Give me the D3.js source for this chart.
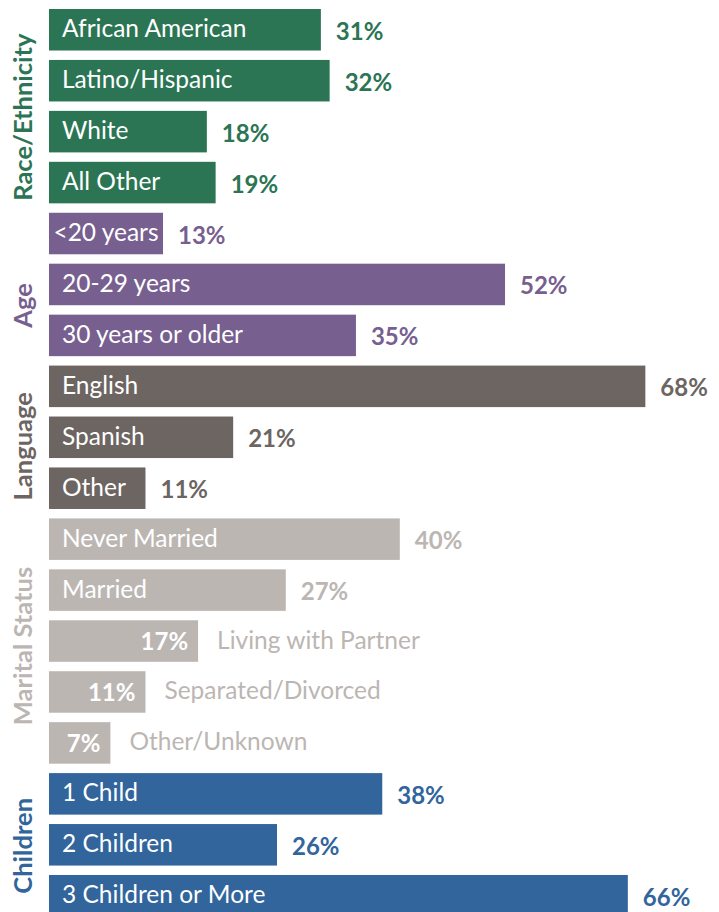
<!DOCTYPE html>
<html>
<head>
<meta charset="utf-8">
<script src="https://cdn.jsdelivr.net/npm/d3@7"></script>
<style>
  html, body { margin: 0; padding: 0; background: #ffffff; }
  svg { display: block; }
  text { font-family: Lato, "Open Sans", sans-serif; }
</style>
</head>
<body>
<div id="chart"></div>
<script>
// Profile of participants, share (%) within each characteristic
const groups = ["Race/Ethnicity", "Age", "Language", "Marital Status", "Children"];
const categories = [
  "African American", "Latino/Hispanic", "White", "All Other",
  "<20 years", "20-29 years", "30 years or older",
  "English", "Spanish", "Other",
  "Never Married", "Married", "Living with Partner", "Separated/Divorced", "Other/Unknown",
  "1 Child", "2 Children", "3 Children or More"
];
const values = [31, 32, 18, 19, 13, 52, 35, 68, 21, 11, 40, 27, 17, 11, 7, 38, 26, 66];
const groupIndex = [0, 0, 0, 0, 1, 1, 1, 2, 2, 2, 3, 3, 3, 3, 3, 4, 4, 4];

// Styling
const groupColors = ["#2b7554", "#775f90", "#6c6562", "#bcb6b3", "#31659c"];
const groupLabelShift = [11, 21, 9, 5, 1];
const W = 719, H = 912;
const catSize = 24.5, valueSize = 24, groupSize = 25.5;

const rows = categories.map((c, i) => ({ i, category: c, value: values[i], group: groupIndex[i] }));

const svg = d3.select("#chart").append("svg")
  .attr("width", W).attr("height", H);

const x = d3.scaleLinear().domain([0, 100]).range([49, 926]);
const y = d3.scaleBand()
  .domain(rows.map(d => d.i))
  .range([9, 916.5])
  .paddingInner(0.185)
  .paddingOuter(0);

const color = d => groupColors[d.group];

// Bars
svg.append("g").selectAll("rect")
  .data(rows)
  .join("rect")
  .attr("x", x(0))
  .attr("y", d => y(d.i))
  .attr("width", d => x(d.value) - x(0))
  .attr("height", y.bandwidth())
  .attr("fill", color);

const labels = svg.append("g");

rows.forEach(d => {
  const x0 = x(0), x1 = x(d.value), bw = x1 - x0;
  const cy = y(d.i) + y.bandwidth() / 2;

  // Measure the category label to decide whether it fits inside the bar
  const probe = labels.append("text")
    .attr("font-size", catSize)
    .text(d.category);
  const tw = probe.node().getComputedTextLength();

  if (tw + 4 <= bw) {
    const pad = Math.min(13, Math.max(2, (bw - tw) / 2));
    probe.attr("x", x0 + pad).attr("y", cy + 7.5).attr("fill", "#ffffff");
    labels.append("text")
      .attr("x", x1 + 15)
      .attr("y", cy + 10)
      .attr("font-size", valueSize)
      .attr("font-weight", 700)
      .attr("fill", color(d))
      .text(d.value + "%");
  } else {
    // Value inside the bar, category to its right
    probe.attr("x", x1 + 19).attr("y", cy + 7.5).attr("fill", color(d));
    labels.append("text")
      .attr("x", x1 - 10)
      .attr("y", cy + 9)
      .attr("text-anchor", "end")
      .attr("font-size", valueSize)
      .attr("font-weight", 700)
      .attr("fill", "#ffffff")
      .text(d.value + "%");
  }
});

// Group titles, rotated along the left edge
const groupSpans = groups.map((g, gi) => {
  const members = rows.filter(r => r.group === gi);
  const top = y(members[0].i);
  const bottom = y(members[members.length - 1].i) + y.bandwidth();
  return { name: g, gi, mid: (top + bottom) / 2 + groupLabelShift[gi] };
});

svg.append("g").selectAll("text")
  .data(groupSpans)
  .join("text")
  .attr("transform", d => `translate(32,${d.mid}) rotate(-90)`)
  .attr("text-anchor", "middle")
  .attr("font-size", groupSize)
  .attr("font-weight", 700)
  .attr("fill", d => groupColors[d.gi])
  .text(d => d.name);
</script>
</body>
</html>
